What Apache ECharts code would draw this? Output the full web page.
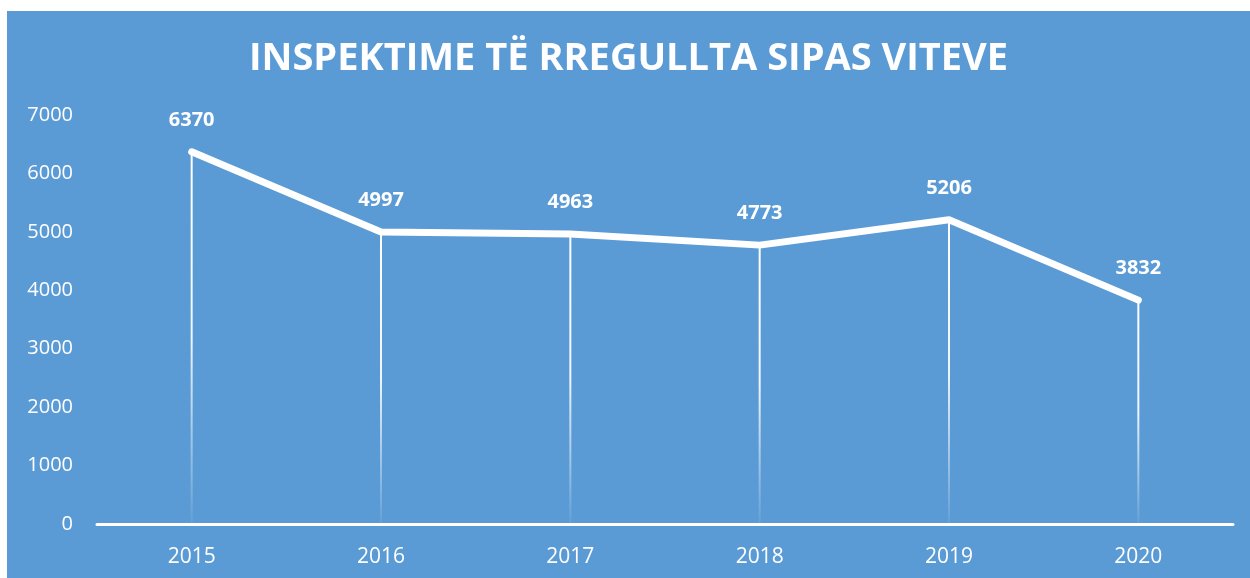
<!DOCTYPE html>
<html>
<head>
<meta charset="utf-8">
<script src="https://cdn.jsdelivr.net/npm/echarts@6/dist/echarts.min.js"></script>
<style>
  html, body { margin: 0; padding: 0; background: #fff; }
  #chart { position: absolute; left: 7px; top: 11px; width: 1243px; height: 567px; }
</style>
</head>
<body>
<div id="chart"></div>
<script>
// data
const years = ['2015', '2016', '2017', '2018', '2019', '2020'];
const inspections = [6370, 4997, 4963, 4773, 5206, 3832];
const yTicks = [0, 1000, 2000, 3000, 4000, 5000, 6000, 7000];

const chart = echarts.init(document.getElementById('chart'), null, { renderer: 'canvas' });

const option = {
  backgroundColor: '#5B9BD5',
  animation: false,
  title: {
    text: 'INSPEKTIME TË RREGULLTA SIPAS VITEVE',
    left: 'center',
    top: 24,
    textStyle: { color: '#fff', fontFamily: 'Open Sans', fontWeight: 'bold', fontSize: 38 }
  },
  grid: { left: 90, right: 17, top: 104, bottom: 54 },
  xAxis: {
    type: 'category',
    data: years,
    boundaryGap: true,
    axisLine: { lineStyle: { color: '#fff', width: 3 } },
    axisTick: { show: false },
    axisLabel: { color: '#fff', fontFamily: 'Open Sans', fontSize: 21, margin: 23 }
  },
  yAxis: {
    type: 'value',
    min: yTicks[0],
    max: yTicks[yTicks.length - 1],
    interval: 1000,
    axisLine: { show: false },
    axisTick: { show: false },
    splitLine: { show: false },
    axisLabel: {
      color: '#fff', fontFamily: 'Open Sans', fontSize: 20, margin: 24,
      formatter: v => String(v)
    }
  },
  series: [
    {
      // drop lines
      type: 'bar',
      data: inspections,
      barWidth: 2,
      silent: true,
      itemStyle: {
        color: new echarts.graphic.LinearGradient(0, 0, 0, 1, [
          { offset: 0, color: 'rgba(255,255,255,1)' },
          { offset: 0.5, color: 'rgba(255,255,255,0.9)' },
          { offset: 1, color: 'rgba(255,255,255,0.05)' }
        ])
      }
    },
    {
      type: 'line',
      data: inspections,
      symbol: 'circle',
      symbolSize: 1,
      showSymbol: true,
      itemStyle: { color: '#fff' },
      lineStyle: { color: '#fff', width: 7, cap: 'round', join: 'round' },
      label: {
        show: true,
        position: 'top',
        distance: 21,
        color: '#fff',
        fontFamily: 'Open Sans',
        fontWeight: 'bold',
        fontSize: 20
      },
      z: 3
    }
  ]
};

chart.setOption(option);
</script>
</body>
</html>
